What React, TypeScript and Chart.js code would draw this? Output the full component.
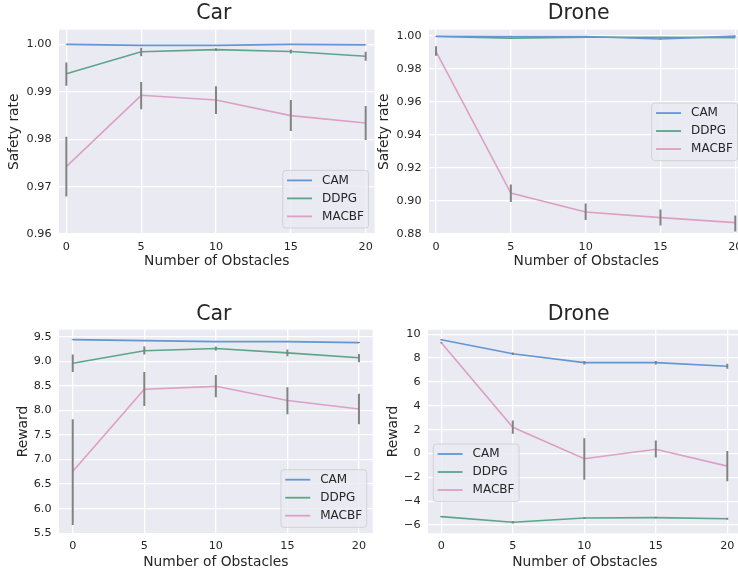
import React, { useEffect, useRef } from 'react';
import { Chart, registerables } from 'chart.js';

Chart.register(...registerables);

const FONT = "'DejaVu Sans', 'Liberation Sans', sans-serif";
const TEXT = '#262626';
const PANEL_BG = '#EAEAF2';
const ERR_COLOR = '#838383';

// ---------- data ----------
const obstacles = [0, 5, 10, 15, 20];
const seriesNames = ['CAM', 'DDPG', 'MACBF'];
const seriesColors = ['#6396d4', '#5ca589', '#dc9fc6'];

// Car – safety rate
const carSafetyCAM = [1.0, 0.9998, 0.9998, 1.0, 0.9999];
const carSafetyCAMLo = [0.99995, 0.99975, 0.99975, 0.99995, 0.99985];
const carSafetyCAMHi = [1.00005, 0.99985, 0.99985, 1.00005, 0.99995];
const carSafetyDDPG = [0.9938, 0.99845, 0.9989, 0.9985, 0.9975];
const carSafetyDDPGLo = [0.9913, 0.9975, 0.9986, 0.9981, 0.99655];
const carSafetyDDPGHi = [0.9962, 0.9993, 0.9992, 0.9989, 0.99845];
const carSafetyMACBF = [0.9742, 0.98926, 0.98827, 0.98497, 0.98343];
const carSafetyMACBFLo = [0.9679, 0.98632, 0.98533, 0.98175, 0.97985];
const carSafetyMACBFHi = [0.9805, 0.99206, 0.99116, 0.98827, 0.98701];

// Drone – safety rate
const droneSafetyCAM = [0.9996, 0.9995, 0.9995, 0.998, 0.9997];
const droneSafetyCAMLo = [0.9995, 0.9994, 0.9994, 0.9976, 0.9995];
const droneSafetyCAMHi = [0.9997, 0.9996, 0.9996, 0.9984, 0.9999];
const droneSafetyDDPG = [0.9995, 0.9985, 0.999, 0.999, 0.9988];
const droneSafetyDDPGLo = [0.9994, 0.9984, 0.9989, 0.9989, 0.9987];
const droneSafetyDDPGHi = [0.9996, 0.9986, 0.9991, 0.9991, 0.9989];
const droneSafetyMACBF = [0.9903, 0.9048, 0.8933, 0.8899, 0.8869];
const droneSafetyMACBFLo = [0.9879, 0.8994, 0.8885, 0.8851, 0.8815];
const droneSafetyMACBFHi = [0.9936, 0.9099, 0.8984, 0.8948, 0.8912];

// Car – reward
const carRewardCAM = [9.44, 9.42, 9.4, 9.4, 9.38];
const carRewardCAMLo = [9.43, 9.41, 9.39, 9.39, 9.37];
const carRewardCAMHi = [9.45, 9.43, 9.41, 9.41, 9.39];
const carRewardDDPG = [8.96, 9.215, 9.26, 9.17, 9.07];
const carRewardDDPGLo = [8.78, 9.14, 9.22, 9.1, 8.98];
const carRewardDDPGHi = [9.14, 9.3, 9.3, 9.24, 9.15];
const carRewardMACBF = [6.756, 8.43, 8.49, 8.2, 8.03];
const carRewardMACBFLo = [5.67, 8.09, 8.27, 7.92, 7.72];
const carRewardMACBFHi = [7.82, 8.78, 8.72, 8.47, 8.34];

// Drone – reward
const droneRewardCAM = [9.55, 8.37, 7.62, 7.62, 7.32];
const droneRewardCAMLo = [9.5, 8.27, 7.47, 7.47, 7.12];
const droneRewardCAMHi = [9.6, 8.47, 7.77, 7.77, 7.52];
const droneRewardDDPG = [-5.3, -5.77, -5.41, -5.38, -5.47];
const droneRewardDDPGLo = [-5.35, -5.87, -5.49, -5.46, -5.55];
const droneRewardDDPGHi = [-5.25, -5.67, -5.33, -5.3, -5.39];
const droneRewardMACBF = [9.3, 2.2, -0.44, 0.36, -1.06];
const droneRewardMACBFLo = [9.25, 1.65, -2.2, -0.34, -2.32];
const droneRewardMACBFHi = [9.35, 2.76, 1.27, 1.08, 0.2];

// tick labels
const xTicks = [0, 5, 10, 15, 20];
const safetyCarTicks = [0.96, 0.97, 0.98, 0.99, 1.0];
const safetyDroneTicks = [0.88, 0.9, 0.92, 0.94, 0.96, 0.98, 1.0];
const rewardCarTicks = [5.5, 6.0, 6.5, 7.0, 7.5, 8.0, 8.5, 9.0, 9.5];
const rewardDroneTicks = [-6, -4, -2, 0, 2, 4, 6, 8, 10];

const fmt2 = (v: number) => v.toFixed(2);
const fmt1 = (v: number) => v.toFixed(1);
const fmtInt = (v: number) => (v < 0 ? '\u2212' + Math.abs(v).toFixed(0) : v.toFixed(0));

type Panel = {
  left: number; top: number; width: number; height: number;
  area: { left: number; right: number; top: number; bottom: number };
  title: string; titleX: number; titleBase: number;
  yLabel: string; yTitlePad: number; yTickPad: number;
  xTickPad: number; xTitlePad: number;
  xMin: number; xMax: number; yMin: number; yMax: number;
  yTicks: number[]; yFmt: (v: number) => string;
  means: number[][]; lo: number[][]; hi: number[][];
  legend: { loc: string; dx?: number; dy?: number };
};

const panels: Panel[] = [
  {
    left: 0, top: 0, width: 375, height: 285,
    area: { left: 59, right: 374.5, top: 29.7, bottom: 234 },
    title: 'Car', titleX: 213.8, titleBase: 18.5,
    yLabel: 'Safety rate', yTitlePad: 6.2, yTickPad: 7.5, xTickPad: 6, xTitlePad: 15,
    xMin: -0.49, xMax: 20.59, yMin: 0.96, yMax: 1.0031,
    yTicks: safetyCarTicks, yFmt: fmt2,
    means: [carSafetyCAM, carSafetyDDPG, carSafetyMACBF],
    lo: [carSafetyCAMLo, carSafetyDDPGLo, carSafetyMACBFLo],
    hi: [carSafetyCAMHi, carSafetyDDPGHi, carSafetyMACBFHi],
    legend: { loc: 'lower right' },
  },
  {
    left: 375, top: 0, width: 375, height: 285,
    area: { left: 54, right: 368.5, top: 29.7, bottom: 234 },
    title: 'Drone', titleX: 203.7, titleBase: 19,
    yLabel: 'Safety rate', yTitlePad: 1, yTickPad: 7.5, xTickPad: 6, xTitlePad: 15,
    xMin: -0.47, xMax: 20.55, yMin: 0.88, yMax: 1.0036,
    yTicks: safetyDroneTicks, yFmt: fmt2,
    means: [droneSafetyCAM, droneSafetyDDPG, droneSafetyMACBF],
    lo: [droneSafetyCAMLo, droneSafetyDDPGLo, droneSafetyMACBFLo],
    hi: [droneSafetyCAMHi, droneSafetyDDPGHi, droneSafetyMACBFHi],
    legend: { loc: 'center right' },
  },
  {
    left: 0, top: 285, width: 375, height: 286,
    area: { left: 59, right: 372.7, top: 44.7, bottom: 248.3 },
    title: 'Car', titleX: 213.8, titleBase: 35,
    yLabel: 'Reward', yTitlePad: 15.2, yTickPad: 7.5, xTickPad: 6.2, xTitlePad: 0.8,
    xMin: -0.96, xMax: 20.96, yMin: 5.5, yMax: 9.642,
    yTicks: rewardCarTicks, yFmt: fmt1,
    means: [carRewardCAM, carRewardDDPG, carRewardMACBF],
    lo: [carRewardCAMLo, carRewardDDPGLo, carRewardMACBFLo],
    hi: [carRewardCAMHi, carRewardDDPGHi, carRewardMACBFHi],
    legend: { loc: 'lower right' },
  },
  {
    left: 375, top: 285, width: 375, height: 286,
    area: { left: 53, right: 366.6, top: 44.7, bottom: 248.3 },
    title: 'Drone', titleX: 203.7, titleBase: 35,
    yLabel: 'Reward', yTitlePad: 10.2, yTickPad: 7.5, xTickPad: 6.2, xTitlePad: 0.8,
    xMin: -0.93, xMax: 21, yMin: -6.696, yMax: 10.386,
    yTicks: rewardDroneTicks, yFmt: fmtInt,
    means: [droneRewardCAM, droneRewardDDPG, droneRewardMACBF],
    lo: [droneRewardCAMLo, droneRewardDDPGLo, droneRewardMACBFLo],
    hi: [droneRewardCAMHi, droneRewardDDPGHi, droneRewardMACBFHi],
    legend: { loc: 'custom', dx: 5.3, dy: 114.3 },
  },
];

function makePlugins(p: Panel) {
  return [
    {
      id: 'panelBg',
      beforeDraw(chart: any) {
        const { ctx, chartArea: a } = chart;
        ctx.save();
        ctx.fillStyle = PANEL_BG;
        ctx.fillRect(a.left, a.top, a.right - a.left, a.bottom - a.top);
        ctx.restore();
      },
    },
    {
      id: 'panelErr',
      afterDatasetsDraw(chart: any) {
        const { ctx, chartArea: a, scales } = chart;
        const x = scales.x;
        const y = scales.y;
        ctx.save();
        ctx.beginPath();
        ctx.rect(a.left, a.top, a.right - a.left, a.bottom - a.top);
        ctx.clip();
        ctx.strokeStyle = ERR_COLOR;
        ctx.lineWidth = 2;
        p.lo.forEach((los, s) => {
          los.forEach((lo, i) => {
            const px = x.getPixelForValue(obstacles[i]);
            ctx.beginPath();
            ctx.moveTo(px, y.getPixelForValue(lo));
            ctx.lineTo(px, y.getPixelForValue(p.hi[s][i]));
            ctx.stroke();
          });
        });
        ctx.restore();
      },
    },
    {
      id: 'panelDecor',
      afterDraw(chart: any) {
        const { ctx, chartArea: a } = chart;
        ctx.save();
        // title
        ctx.fillStyle = TEXT;
        ctx.font = `20.5px ${FONT}`;
        ctx.textAlign = 'center';
        ctx.textBaseline = 'alphabetic';
        ctx.fillText(p.title, p.titleX, p.titleBase);
        // legend
        ctx.font = `12px ${FONT}`;
        const tw = Math.max(...seriesNames.map((n) => ctx.measureText(n).width));
        const w = 4.3 + 25 + 10 + tw + 4.6;
        const h = 57.6;
        let bx: number, by: number;
        if (p.legend.loc === 'lower right') {
          bx = a.right - 6 - w; by = a.bottom - 6 - h;
        } else if (p.legend.loc === 'center right') {
          bx = a.right - 6 - w; by = (a.top + a.bottom) / 2 - h / 2;
        } else {
          bx = a.left + (p.legend.dx || 0); by = a.top + (p.legend.dy || 0);
        }
        const r = 3;
        ctx.beginPath();
        ctx.moveTo(bx + r, by);
        ctx.lineTo(bx + w - r, by);
        ctx.arcTo(bx + w, by, bx + w, by + r, r);
        ctx.lineTo(bx + w, by + h - r);
        ctx.arcTo(bx + w, by + h, bx + w - r, by + h, r);
        ctx.lineTo(bx + r, by + h);
        ctx.arcTo(bx, by + h, bx, by + h - r, r);
        ctx.lineTo(bx, by + r);
        ctx.arcTo(bx, by, bx + r, by, r);
        ctx.closePath();
        ctx.fillStyle = 'rgba(234,234,242,0.8)';
        ctx.fill();
        ctx.strokeStyle = 'rgba(204,204,204,0.8)';
        ctx.lineWidth = 1;
        ctx.stroke();
        chart.data.datasets.forEach((ds: any, i: number) => {
          const ry = by + 10 + i * 18;
          ctx.strokeStyle = ds.borderColor;
          ctx.lineWidth = 1.8;
          ctx.beginPath();
          ctx.moveTo(bx + 4.3, ry);
          ctx.lineTo(bx + 29.3, ry);
          ctx.stroke();
          ctx.fillStyle = TEXT;
          ctx.textAlign = 'left';
          ctx.textBaseline = 'middle';
          ctx.fillText(ds.label, bx + 39.3, ry);
        });
        ctx.restore();
      },
    },
  ];
}

function PanelChart({ p }: { p: Panel }) {
  const ref = useRef<HTMLCanvasElement>(null);
  useEffect(() => {
    if (!ref.current) return;
    const chart = new Chart(ref.current, {
      type: 'line',
      data: {
        datasets: seriesNames.map((name, s) => ({
          label: name,
          data: obstacles.map((x, i) => ({ x, y: p.means[s][i] })),
          borderColor: seriesColors[s],
          backgroundColor: seriesColors[s],
          borderWidth: 1.6,
          pointRadius: 0,
          pointHoverRadius: 0,
          tension: 0,
          fill: false,
        })),
      },
      options: {
        animation: false,
        responsive: false,
        maintainAspectRatio: false,
        devicePixelRatio: 1,
        events: [],
        layout: {
          padding: { left: 0, top: p.area.top, right: p.width - p.area.right, bottom: 0 },
        },
        plugins: {
          legend: { display: false },
          title: { display: false },
          tooltip: { enabled: false },
        },
        scales: {
          x: {
            type: 'linear',
            min: p.xMin,
            max: p.xMax,
            bounds: 'data',
            afterBuildTicks: (s: any) => { s.ticks = xTicks.map((v) => ({ value: v })); },
            afterFit: (s: any) => {
              s.height = p.height - p.area.bottom;
              s.paddingLeft = 0; s.paddingRight = 0; s.paddingTop = 0; s.paddingBottom = 0;
            },
            grid: { color: '#ffffff', lineWidth: 1.3, drawTicks: false },
            border: { display: false },
            ticks: {
              autoSkip: false,
              maxRotation: 0,
              padding: p.xTickPad,
              color: TEXT,
              font: { family: FONT, size: 11.2 },
              callback: (v: any) => String(v),
            },
            title: {
              display: true,
              text: 'Number of Obstacles',
              color: TEXT,
              font: { family: FONT, size: 13.8 },
              padding: { top: 0, bottom: p.xTitlePad },
            },
          },
          y: {
            type: 'linear',
            min: p.yMin,
            max: p.yMax,
            bounds: 'data',
            afterBuildTicks: (s: any) => { s.ticks = p.yTicks.map((v) => ({ value: v })); },
            afterFit: (s: any) => {
              s.width = p.area.left;
              s.paddingLeft = 0; s.paddingRight = 0; s.paddingTop = 0; s.paddingBottom = 0;
            },
            grid: { color: '#ffffff', lineWidth: 1.3, drawTicks: false },
            border: { display: false },
            ticks: {
              autoSkip: false,
              padding: p.yTickPad,
              color: TEXT,
              font: { family: FONT, size: 11.2 },
              callback: (v: any) => p.yFmt(Number(v)),
            },
            title: {
              display: true,
              text: p.yLabel,
              color: TEXT,
              font: { family: FONT, size: 13.8 },
              padding: { top: p.yTitlePad, bottom: 0 },
            },
          },
        },
      } as any,
      plugins: makePlugins(p) as any,
    });
    return () => chart.destroy();
  }, [p]);
  return (
    <div style={{ position: 'absolute', left: p.left, top: p.top, width: p.width, height: p.height }}>
      <canvas ref={ref} width={p.width} height={p.height} style={{ width: p.width, height: p.height, display: 'block' }} />
    </div>
  );
}

export default function App() {
  return (
    <div
      style={{
        position: 'absolute', left: 0, top: 0, width: 738, height: 571,
        overflow: 'hidden', background: '#ffffff',
      }}
    >
      {panels.map((p, i) => (
        <PanelChart key={i} p={p} />
      ))}
    </div>
  );
}
